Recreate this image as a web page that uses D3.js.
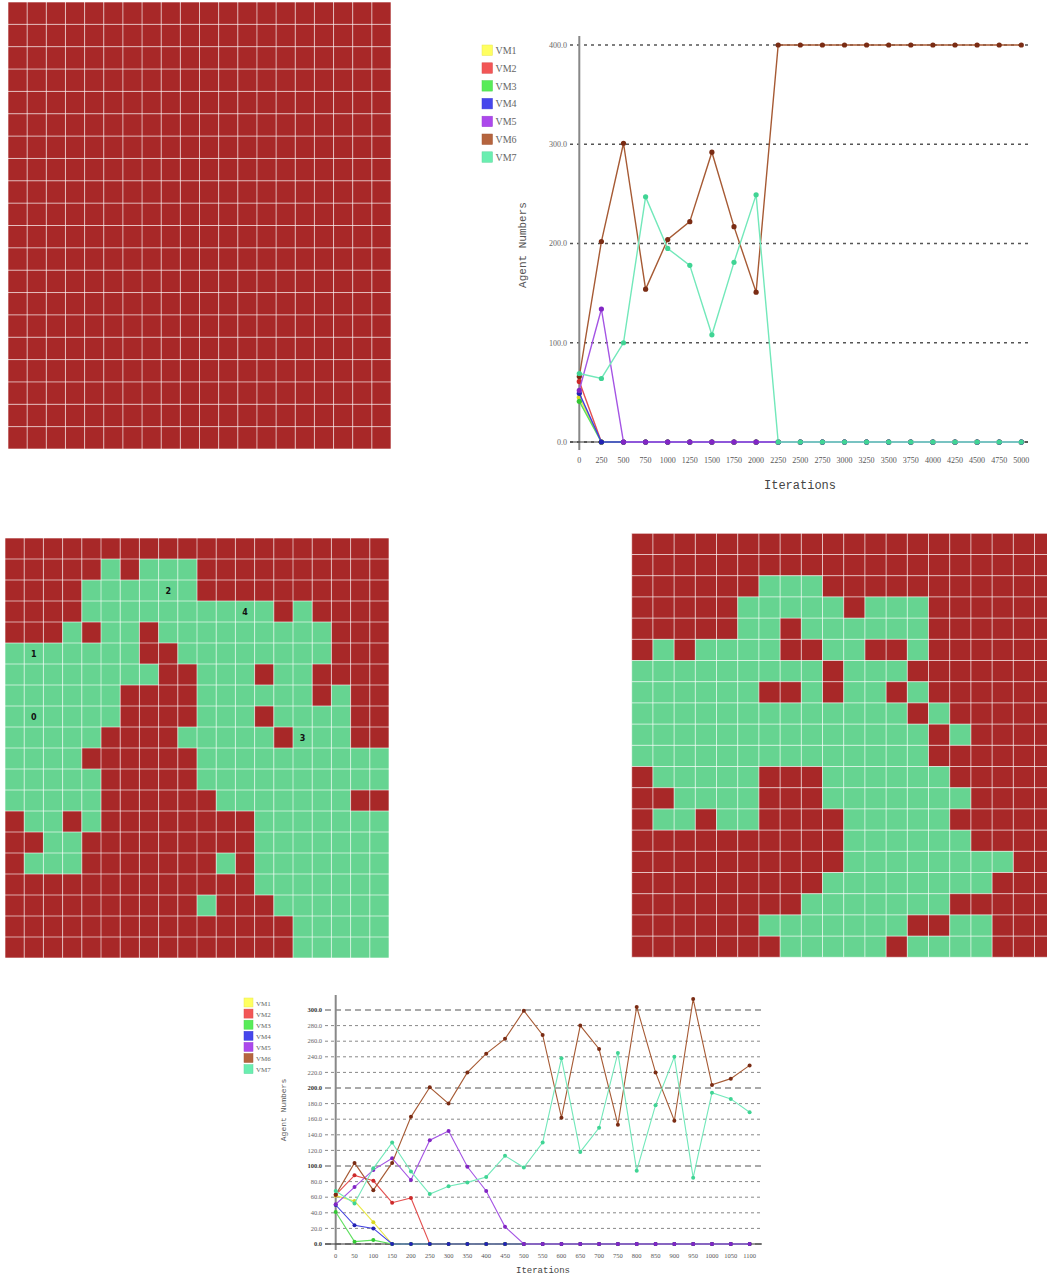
<!DOCTYPE html>
<html>
<head>
<meta charset="utf-8">
<script src="https://cdn.jsdelivr.net/npm/d3@7"></script>
<style>
  html, body { margin: 0; padding: 0; background: #fff; overflow: hidden; }
  svg { display: block; }
</style>
</head>
<body>
<svg id="fig" width="1047" height="1279"></svg>
<script>
// ---------- cell maps: R = overloaded host, G = balanced host ----------
const gridA = [
  "RRRRRRRRRRRRRRRRRRRR","RRRRRRRRRRRRRRRRRRRR","RRRRRRRRRRRRRRRRRRRR","RRRRRRRRRRRRRRRRRRRR",
  "RRRRRRRRRRRRRRRRRRRR","RRRRRRRRRRRRRRRRRRRR","RRRRRRRRRRRRRRRRRRRR","RRRRRRRRRRRRRRRRRRRR",
  "RRRRRRRRRRRRRRRRRRRR","RRRRRRRRRRRRRRRRRRRR","RRRRRRRRRRRRRRRRRRRR","RRRRRRRRRRRRRRRRRRRR",
  "RRRRRRRRRRRRRRRRRRRR","RRRRRRRRRRRRRRRRRRRR","RRRRRRRRRRRRRRRRRRRR","RRRRRRRRRRRRRRRRRRRR",
  "RRRRRRRRRRRRRRRRRRRR","RRRRRRRRRRRRRRRRRRRR","RRRRRRRRRRRRRRRRRRRR","RRRRRRRRRRRRRRRRRRRR"
];
const gridC = [
  "RRRRRRRRRRRRRRRRRRRR",
  "RRRRRGRGGGRRRRRRRRRR",
  "RRRRGGGGGGRRRRRRRRRR",
  "RRRRGGGGGGGGGGRGRRRR",
  "RRRGRGGRGGGGGGGGGRRR",
  "GGGGGGGRRGGGGGGGGRRR",
  "GGGGGGGGRRGGGRGGRRRR",
  "GGGGGGRRRRGGGGGGRGRR",
  "GGGGGGRRRRGGGRGGGGRR",
  "GGGGGRRRRGGGGGRGGGRR",
  "GGGGRRRRRRGGGGGGGGGG",
  "GGGGGRRRRRGGGGGGGGGG",
  "GGGGGRRRRRRGGGGGGGRR",
  "RGGRGRRRRRRRRGGGGGGG",
  "RRGGRRRRRRRRRGGGGGGG",
  "RGGGRRRRRRRGRGGGGGGG",
  "RRRRRRRRRRRRRGGGGGGG",
  "RRRRRRRRRRGRRRGGGGGG",
  "RRRRRRRRRRRRRRRGGGGG",
  "RRRRRRRRRRRRRRRGGGGG"
];
// numbered cluster markers on map C: [row, col, label]
const clusterLabels = [[8, 1, "0"], [5, 1, "1"], [2, 8, "2"], [9, 15, "3"], [3, 12, "4"]];
const gridD = [
  "RRRRRRRRRRRRRRRRRRRR",
  "RRRRRRRRRRRRRRRRRRRR",
  "RRRRRRGGGRRRRRRRRRRR",
  "RRRRRGGGGGRGGGRRRRRR",
  "RRRRRGGRGGGGGGRRRRRR",
  "RGRGGGGRRGGRRGRRRRRR",
  "GGGGGGGGGRGGGRRRRRRR",
  "GGGGGGRRGRGGRGRRRRRR",
  "GGGGGGGGGGGGGRGRRRRR",
  "GGGGGGGGGGGGGGRGRRRR",
  "GGGGGGGGGGGGGGRRRRRR",
  "RGGGGGRRRGGGGGGRRRRR",
  "RRGGGGRRRGGGGGGGRRRR",
  "RGGRGGRRRRGGGGGRRRRR",
  "RRRRRRRRRRGGGGGGRRRR",
  "RRRRRRRRRRGGGGGGGGRR",
  "RRRRRRRRRGGGGGGGGRRR",
  "RRRRRRRRGGGGGGGRRRRR",
  "RRRRRRGGGGGGGRRGGRRR",
  "RRRRRRRGGGGGRGGGGRRR"
];

// ---------- agent counts per VM ----------
const vmNames = ["VM1", "VM2", "VM3", "VM4", "VM5", "VM6", "VM7"];

const itersLong = [0,250,500,750,1000,1250,1500,1750,2000,2250,2500,2750,3000,3250,3500,3750,4000,4250,4500,4750,5000];
const longVM1 = [45,0,0,0,0,0,0,0,0,0,0,0,0,0,0,0,0,0,0,0,0];
const longVM2 = [61,0,0,0,0,0,0,0,0,0,0,0,0,0,0,0,0,0,0,0,0];
const longVM3 = [41,0,0,0,0,0,0,0,0,0,0,0,0,0,0,0,0,0,0,0,0];
const longVM4 = [49,0,0,0,0,0,0,0,0,0,0,0,0,0,0,0,0,0,0,0,0];
const longVM5 = [52,134,0,0,0,0,0,0,0,0,0,0,0,0,0,0,0,0,0,0,0];
const longVM6 = [66,202,301,154,204,222,292,217,151,400,400,400,400,400,400,400,400,400,400,400,400];
const longVM7 = [69,64,100,247,195,178,108,181,249,0,0,0,0,0,0,0,0,0,0,0,0];
const longTicksY = [0,100,200,300,400];

const itersShort = [0,50,100,150,200,250,300,350,400,450,500,550,600,650,700,750,800,850,900,950,1000,1050,1100];
const shortVM1 = [62,55,28,0,0,0,0,0,0,0,0,0,0,0,0,0,0,0,0,0,0,0,0];
const shortVM2 = [63,88,81,53,59,0,0,0,0,0,0,0,0,0,0,0,0,0,0,0,0,0,0];
const shortVM3 = [41,3,5,0,0,0,0,0,0,0,0,0,0,0,0,0,0,0,0,0,0,0,0];
const shortVM4 = [50,24,20,0,0,0,0,0,0,0,0,0,0,0,0,0,0,0,0,0,0,0,0];
const shortVM5 = [51,73,95,110,82,133,145,99,68,22,0,0,0,0,0,0,0,0,0,0,0,0,0];
const shortVM6 = [63,104,69,104,163,201,180,220,244,263,299,268,162,280,250,153,304,220,158,314,204,212,229];
const shortVM7 = [68,52,97,130,93,64,74,79,86,113,98,130,238,118,149,245,94,178,240,85,194,186,169];
const shortTicksY = [0,20,40,60,80,100,120,140,160,180,200,220,240,260,280,300];
const shortMajorY = [0,100,200,300];

// ---------- styling ----------
const cellColor = { R: "#a82828", G: "#66d491" };
const lineColor = ["#eaea4a", "#e45050", "#5ee05e", "#4040e0", "#a454e4", "#a65a34", "#72e8ba"];
const dotColor  = ["#d8d820", "#cc2a2a", "#34c834", "#2222b4", "#8226c4", "#7a2c14", "#40d494"];
const keyColor  = ["#ffff60", "#f25656", "#58ec58", "#4646ec", "#ac48ec", "#b5643e", "#6aeeb0"];

const svg = d3.select("#fig");

function drawGrid(rows, x0, y0, w, h) {
  const x = d3.scaleBand().domain(d3.range(rows[0].length)).range([x0, x0 + w]);
  const y = d3.scaleBand().domain(d3.range(rows.length)).range([y0, y0 + h]);
  const cells = [];
  rows.forEach((row, r) => row.split("").forEach((s, c) => cells.push({ r, c, s })));
  const g = svg.append("g");
  g.selectAll("rect").data(cells).join("rect")
    .attr("x", d => x(d.c)).attr("y", d => y(d.r))
    .attr("width", x.bandwidth()).attr("height", y.bandwidth())
    .attr("fill", d => cellColor[d.s]);
  // thin light separators between cells
  g.selectAll("line.v").data(d3.range(rows[0].length + 1)).join("line")
    .attr("x1", i => x0 + i * x.step()).attr("x2", i => x0 + i * x.step())
    .attr("y1", y0).attr("y2", y0 + h)
    .attr("stroke", "#fff").attr("stroke-opacity", 0.6).attr("stroke-width", 1);
  g.selectAll("line.h").data(d3.range(rows.length + 1)).join("line")
    .attr("y1", i => y0 + i * y.step()).attr("y2", i => y0 + i * y.step())
    .attr("x1", x0).attr("x2", x0 + w)
    .attr("stroke", "#fff").attr("stroke-opacity", 0.6).attr("stroke-width", 1);
  return { g, x, y };
}

drawGrid(gridA, 8, 2, 383, 447);
const mapC = drawGrid(gridC, 5, 538, 384, 420);
mapC.g.selectAll("text").data(clusterLabels).join("text")
  .attr("x", d => mapC.x(d[1]) + mapC.x.bandwidth() / 2)
  .attr("y", d => mapC.y(d[0]) + mapC.y.bandwidth() / 2 + 3)
  .attr("text-anchor", "middle")
  .attr("font-family", "DejaVu Sans, sans-serif").attr("font-weight", "bold")
  .attr("font-size", 8).attr("fill", "#111")
  .text(d => d[2]);
drawGrid(gridD, 631.7, 533.3, 424, 424);

function drawLines(cfg) {
  const x = d3.scaleLinear().domain(cfg.xDomain).range(cfg.xRange);
  const y = d3.scaleLinear().domain(cfg.yDomain).range(cfg.yRange);
  const g = svg.append("g");
  const f = d3.format(".1f");

  // horizontal reference lines
  g.selectAll("line.grid").data(cfg.ticksY).join("line")
    .attr("x1", cfg.gridX[0]).attr("x2", cfg.gridX[1])
    .attr("y1", d => y(d)).attr("y2", d => y(d))
    .attr("stroke", d => cfg.major.includes(d) ? cfg.majorStroke : cfg.minorStroke)
    .attr("stroke-width", d => cfg.major.includes(d) ? cfg.majorWidth : cfg.minorWidth)
    .attr("stroke-dasharray", d => cfg.major.includes(d) ? cfg.majorDash : cfg.minorDash);

  // value axis labels
  g.selectAll("text.yl").data(cfg.ticksY).join("text")
    .attr("x", cfg.yLabelX).attr("y", d => y(d) + cfg.tickFont * 0.35)
    .attr("text-anchor", "end")
    .attr("font-family", "Liberation Serif, serif")
    .attr("font-size", cfg.tickFont)
    .attr("font-weight", d => cfg.boldY.includes(d) ? "bold" : "normal")
    .attr("fill", d => cfg.boldY.includes(d) ? "#333" : "#666")
    .text(d => f(d));

  // iteration labels
  g.selectAll("text.xl").data(cfg.iters).join("text")
    .attr("x", d => x(d)).attr("y", cfg.xLabelY)
    .attr("text-anchor", "middle")
    .attr("font-family", "Liberation Serif, serif")
    .attr("font-size", cfg.tickFont).attr("fill", "#555")
    .text(d => d);

  // axes
  g.append("line")
    .attr("x1", x(cfg.xDomain[0])).attr("x2", x(cfg.xDomain[0]))
    .attr("y1", cfg.axisTop).attr("y2", y(0) + cfg.axisBelow)
    .attr("stroke", "#888").attr("stroke-width", 2);
  g.append("line")
    .attr("x1", cfg.gridX[0]).attr("x2", cfg.gridX[1])
    .attr("y1", y(0)).attr("y2", y(0))
    .attr("stroke", "#333").attr("stroke-width", 1.2);

  // series
  const line = d3.line().x((d, i) => x(cfg.iters[i])).y(d => y(d));
  cfg.series.forEach((vals, k) => {
    g.append("path").datum(vals)
      .attr("d", line).attr("fill", "none")
      .attr("stroke", lineColor[k]).attr("stroke-width", cfg.lineWidth);
    g.selectAll(null).data(vals).join("circle")
      .attr("cx", (d, i) => x(cfg.iters[i])).attr("cy", d => y(d))
      .attr("r", cfg.dotR).attr("fill", dotColor[k]);
  });

  // legend
  vmNames.forEach((name, k) => {
    const yy = cfg.legendY + k * cfg.legendStep;
    g.append("rect")
      .attr("x", cfg.legendX).attr("y", yy)
      .attr("width", cfg.keySize).attr("height", cfg.keySize)
      .attr("fill", keyColor[k]).attr("stroke", d3.color(keyColor[k]).darker(0.3)).attr("stroke-width", 0.5);
    g.append("text")
      .attr("x", cfg.legendX + cfg.keySize + 3).attr("y", yy + cfg.keySize * 0.85)
      .attr("font-family", "Liberation Serif, serif")
      .attr("font-size", cfg.legendFont).attr("fill", "#666")
      .text(name);
  });

  // axis titles
  g.append("text")
    .attr("transform", `translate(${cfg.yTitle[0]},${cfg.yTitle[1]}) rotate(-90)`)
    .attr("text-anchor", "middle")
    .attr("font-family", "Liberation Mono, monospace")
    .attr("font-size", cfg.titleFont).attr("fill", "#555")
    .text("Agent Numbers");
  g.append("text")
    .attr("x", cfg.xTitle[0]).attr("y", cfg.xTitle[1])
    .attr("text-anchor", "middle")
    .attr("font-family", "Liberation Mono, monospace")
    .attr("font-size", cfg.titleFont + 1).attr("fill", "#444")
    .text("Iterations");
}

drawLines({
  iters: itersLong,
  series: [longVM1, longVM2, longVM3, longVM4, longVM5, longVM6, longVM7],
  xDomain: [0, 5000], xRange: [579.3, 1021.3],
  yDomain: [0, 400], yRange: [442, 45],
  ticksY: longTicksY, major: longTicksY, boldY: [],
  majorStroke: "#555", majorWidth: 1.3, majorDash: "3,4",
  minorStroke: "#555", minorWidth: 1.3, minorDash: "3,4",
  gridX: [570, 1028],
  yLabelX: 567, xLabelY: 463, tickFont: 8,
  axisTop: 36, axisBelow: 8,
  lineWidth: 1.4, dotR: 2.6,
  legendX: 482, legendY: 45, legendStep: 17.8, keySize: 10.5, legendFont: 10,
  yTitle: [526, 245], xTitle: [800, 489], titleFont: 11
});

drawLines({
  iters: itersShort,
  series: [shortVM1, shortVM2, shortVM3, shortVM4, shortVM5, shortVM6, shortVM7],
  xDomain: [0, 1100], xRange: [335.7, 749.6],
  yDomain: [0, 300], yRange: [1244, 1010],
  ticksY: shortTicksY, major: shortMajorY, boldY: shortMajorY,
  majorStroke: "#555", majorWidth: 1.2, majorDash: "6,4",
  minorStroke: "#888", minorWidth: 1, minorDash: "3,3",
  gridX: [325, 762],
  yLabelX: 322, xLabelY: 1258, tickFont: 6.5,
  axisTop: 995, axisBelow: 6,
  lineWidth: 1.1, dotR: 2,
  legendX: 244, legendY: 998, legendStep: 11.1, keySize: 9, legendFont: 7,
  yTitle: [286, 1110], xTitle: [543, 1273], titleFont: 8
});
</script>
</body>
</html>
